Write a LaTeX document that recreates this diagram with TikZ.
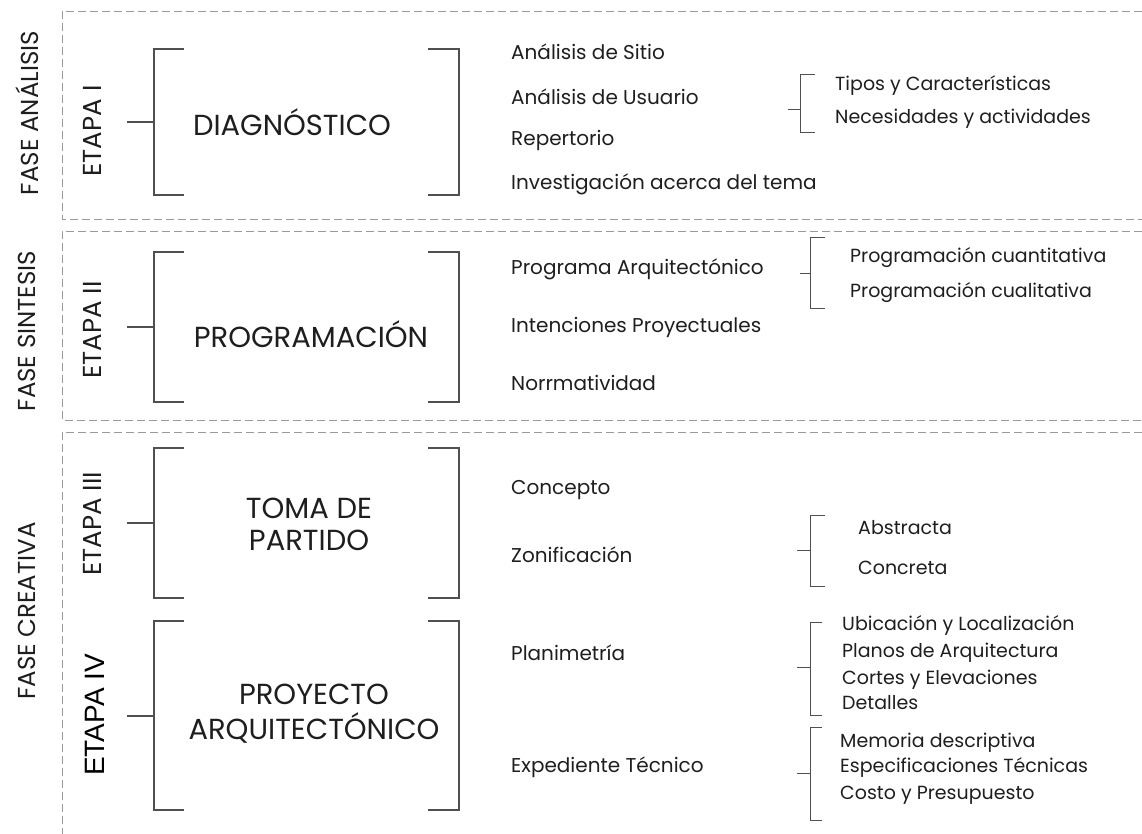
\documentclass[tikz,border=0pt]{standalone}
\usepackage{fontspec}
\setmainfont{Poppins}
\newfontfamily\arialf{Liberation Sans}
\definecolor{txt}{HTML}{1E1E1E}
\definecolor{lin}{HTML}{505050}
\definecolor{dsh}{HTML}{9A9A9A}
\begin{document}
\begin{tikzpicture}[x=1pt,y=-1pt,
  phase/.style={rotate=90, text=txt, inner sep=0pt, font=\fontsize{24.5}{26}\selectfont},
  etapa/.style={rotate=90, text=txt, inner sep=0pt, font=\fontsize{26}{28}\selectfont},
  etapafour/.style={rotate=90, text=black, inner sep=0pt, font=\arialf\fontsize{28}{30}\selectfont},
  mainbox/.style={align=center, text=txt, inner sep=0pt, font=\fontsize{29}{32}\selectfont},
  item/.style={anchor=mid west, text=txt, inner sep=0pt, font=\fontsize{20}{22}\selectfont},
  subitem/.style={anchor=mid west, text=txt, inner sep=0pt, font=\fontsize{19}{22}\selectfont},
  bigbr/.style={draw=lin, line width=1.3pt},
  smallbr/.style={draw=lin, line width=1pt},
  dashline/.style={draw=dsh, line width=0.8pt, dash pattern=on 8pt off 4pt}]
\useasboundingbox (0,0) rectangle (1142,834);

% dashed phase frames
\draw[dashline] (1142,11) -- (62,11) -- (62,219) -- (1142,219);
\draw[dashline] (1142,231) -- (62,231) -- (62,420) -- (1142,420);
\draw[dashline] (1142,432) -- (62,432) -- (62,834);

% phase labels
\node[phase] (f1) at (27,113) {FASE ANÁLISIS};
\node[phase] (f2) at (27,331) {FASE SINTESIS};
\node[phase] (f3) at (27,611) {FASE CREATIVA};

% etapa labels
\node[etapa] (e1) at (92,131) {ETAPA I};
\node[etapa] (e2) at (92,330) {ETAPA II};
\node[etapa] (e3) at (92,524) {ETAPA III};
\node[etapafour] (e4) at (95,715) {ETAPA IV};

% big brackets
\draw[bigbr] (184,49) -- (154,49) -- (154,195) -- (184,195);
\draw[bigbr] (428,49) -- (459,49) -- (459,195) -- (428,195);
\draw[bigbr] (184,252) -- (154,252) -- (154,402) -- (184,402);
\draw[bigbr] (428,252) -- (459,252) -- (459,402) -- (428,402);
\draw[bigbr] (184,448) -- (154,448) -- (154,598) -- (184,598);
\draw[bigbr] (428,448) -- (459,448) -- (459,598) -- (428,598);
\draw[bigbr] (184,621) -- (154,621) -- (154,810) -- (184,810);
\draw[bigbr] (428,621) -- (459,621) -- (459,810) -- (428,810);

\coordinate (c1) at (127,122); \coordinate (b1) at (154,122);
\coordinate (c2) at (127,327); \coordinate (b2) at (154,327);
\coordinate (c3) at (127,523); \coordinate (b3) at (154,523);
\coordinate (c4) at (127,716); \coordinate (b4) at (154,716);
\draw[bigbr] (c1) -- (b1);
\draw[bigbr] (c2) -- (b2);
\draw[bigbr] (c3) -- (b3);
\draw[bigbr] (c4) -- (b4);

% main texts
\node[mainbox] (m1) at (292,122) {DIAGNÓSTICO};
\node[mainbox] (m2) at (311,334) {PROGRAMACIÓN};
\node[mainbox] (m3) at (309,524) {TOMA DE\\PARTIDO};
\node[mainbox, font=\fontsize{29}{35}\selectfont] (m4) at (314,714) {PROYECTO\\ARQUITECTÓNICO};

% items
\node[item] (i11) at (511,57) {Análisis de Sitio};
\node[item] (i12) at (511,102) {Análisis de Usuario};
\node[item] (i13) at (511,143) {Repertorio};
\node[item] (i14) at (511,187) {Investigación acerca del tema};
\node[item] (i21) at (511,272) {Programa Arquitectónico};
\node[item] (i22) at (511,330) {Intenciones Proyectuales};
\node[item] (i23) at (511,388) {Norrmatividad};
\node[item] (i31) at (511,492) {Concepto};
\node[item] (i32) at (511,560) {Zonificación};
\node[item] (i41) at (511,658) {Planimetría};
\node[item] (i42) at (511,770) {Expediente Técnico};

% small brackets
\draw[smallbr] (815,75) -- (800,75) -- (800,133) -- (815,133);
\coordinate (s1a) at (788,110); \coordinate (s1b) at (800,110);
\draw[smallbr] (s1a) -- (s1b);
\draw[smallbr] (825,238) -- (810,238) -- (810,308) -- (825,308);
\coordinate (s2a) at (800,273); \coordinate (s2b) at (810,273);
\draw[smallbr] (s2a) -- (s2b);
\draw[smallbr] (825,515) -- (810,515) -- (810,586) -- (825,586);
\coordinate (s3a) at (797,550); \coordinate (s3b) at (810,550);
\draw[smallbr] (s3a) -- (s3b);
\draw[smallbr] (822,622) -- (810,622) -- (810,715) -- (822,715);
\coordinate (s4a) at (797,667); \coordinate (s4b) at (810,667);
\draw[smallbr] (s4a) -- (s4b);
\draw[smallbr] (822,727) -- (810,727) -- (810,820) -- (822,820);
\coordinate (s5a) at (797,773); \coordinate (s5b) at (810,773);
\draw[smallbr] (s5a) -- (s5b);

% sub items
\node[subitem] (t11) at (835,88) {Tipos y Características};
\node[subitem] (t12) at (835,121) {Necesidades y actividades};
\node[subitem] (t21) at (850,260) {Programación cuantitativa};
\node[subitem] (t22) at (850,295) {Programación cualitativa};
\node[subitem] (t31) at (858,532) {Abstracta};
\node[subitem] (t32) at (858,572) {Concreta};
\node[subitem] (t41) at (842,628) {Ubicación y Localización};
\node[subitem] (t42) at (842,655) {Planos de Arquitectura};
\node[subitem] (t43) at (842,682) {Cortes y Elevaciones};
\node[subitem] (t44) at (842,707) {Detalles};
\node[subitem] (t51) at (840,745) {Memoria descriptiva};
\node[subitem] (t52) at (840,770) {Especificaciones Técnicas};
\node[subitem] (t53) at (840,797) {Costo y Presupuesto};
\end{tikzpicture}
\end{document}
